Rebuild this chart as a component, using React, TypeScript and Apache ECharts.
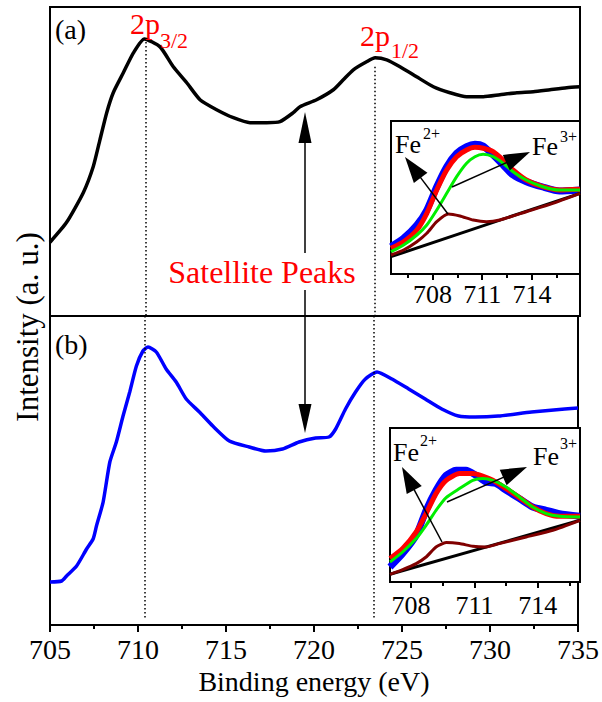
import React, { useEffect, useRef } from "react";
import * as echarts from "echarts";

// ---------- data ----------
const energyA = [705, 705.94, 706.89, 707.45, 707.83, 708.21, 708.58, 709.15, 709.72, 710.34, 711.23, 711.98, 712.74, 713.49, 714.43, 715.38, 716.32, 717.26, 718.02, 718.77, 719.15, 720.09, 721.04, 721.6, 722.17, 722.92, 723.4, 724.06, 724.81, 725.75, 726.7, 727.64, 728.58, 729.53, 730.47, 731.42, 732.36, 733.3, 734.25, 735];
const intensityA = [74, 94, 124, 150, 177, 204, 224, 244, 264, 278, 270, 250, 234, 217, 207, 199, 194, 194, 195, 204, 210, 217, 227, 237, 247, 255, 259, 257, 250, 240, 230, 224, 220, 220, 222, 224, 225, 227, 229, 230];

const energyB = [705, 705.66, 705.94, 706.51, 707.08, 707.45, 707.64, 708.02, 708.4, 708.77, 709.15, 709.53, 709.91, 710.28, 710.57, 711.04, 711.6, 712.17, 712.74, 713.49, 714.25, 715.19, 716.32, 717.26, 718.21, 719.15, 720.09, 720.85, 721.23, 721.79, 722.36, 722.92, 723.58, 724.43, 725.38, 726.32, 727.26, 728.21, 729.15, 730.47, 732.36, 734.25, 735];
const intensityB = [43, 44, 49, 59, 76, 86, 99, 123, 163, 183, 209, 233, 259, 274, 278, 273, 256, 243, 226, 213, 199, 184, 178, 174, 176, 183, 187, 188, 196, 216, 233, 246, 253, 246, 236, 226, 216, 209, 208, 209, 213, 216, 217];

const peakEnergies = [710.4, 723.4];
const peakTopA = [279, 250];

const mainTicks = { min: 705, max: 735, step: 5 };

// inset (a)
const insetAEnergy = [705.5, 706.26, 707.06, 707.66, 708.26, 708.86, 709.46, 710.06, 710.56, 711.06, 711.66, 712.26, 712.86, 713.66, 714.66, 715.66, 716.9];
const insetAData = [27.3, 35.7, 49, 64, 87.3, 107.3, 120.7, 127.3, 129.7, 128, 119, 109, 99, 92.3, 87, 83, 84];
const insetAEnvelope = [25.7, 32.3, 44, 60.7, 84, 104, 117.3, 124, 126.7, 125.7, 122.3, 114, 104, 94, 87.3, 84, 84.7];
const insetAFe3 = [22.3, 29, 39, 49, 64, 80.7, 97.3, 110.7, 117.3, 119.7, 117.3, 110.7, 102.3, 94, 87.3, 84, 84];
const insetAFe2Energy = [705.5, 706.26, 707.06, 707.66, 708.26, 708.96, 709.66, 710.46, 711.26, 712.06, 713.66, 715.26, 716.9];
const insetAFe2 = [19, 24, 32.3, 40.7, 52.3, 60, 58, 54, 52.3, 54, 62.3, 70.7, 80.7];
const insetABgEnergy = [705.5, 716.9];
const insetABg = [17.3, 80.7];

// inset (b)
const insetBEnergy = [707, 707.6, 708.24, 708.71, 709.18, 709.66, 710.29, 710.92, 711.39, 711.87, 712.5, 713.13, 713.76, 714.4, 715.03, 716];
const insetBEnvelope = [23.4, 33.4, 50, 68.4, 88.4, 101.7, 108.4, 108.4, 106, 101.7, 93.4, 84.4, 75, 68.4, 65.7, 65.7];
const insetBFe3 = [20, 30, 43.4, 56.7, 71.7, 84.4, 93.4, 101.7, 103.4, 101.7, 95, 85, 75, 68.4, 65.7, 65];
const insetBDataEnergy = [707, 707.6, 708.24, 708.71, 709.18, 709.66, 710.13, 710.6, 711.08, 711.55, 712.02, 712.5, 713.13, 713.76, 714.4, 715.03, 716];
const insetBData = [15, 28.4, 46.7, 71.7, 91.7, 106.7, 111.7, 111.7, 106.7, 100, 98.4, 91.7, 83.4, 75, 71.7, 68.4, 65.7];
const insetBFe2Energy = [707, 707.6, 708.24, 708.71, 709.18, 709.66, 710.29, 710.92, 711.55, 712.18, 713.45, 714.71, 716];
const insetBFe2 = [7.7, 12.4, 18.4, 25, 35, 39.4, 38.4, 35.7, 35, 38.4, 45, 51.7, 61.7];
const insetBBgEnergy = [707, 716];
const insetBBg = [7.7, 61.7];

const insetMajorTicks = [708, 711, 714];
const insetMinorTicks = [706.5, 709.5, 712.5, 715.5];

// ---------- helpers ----------
const FONT = "Liberation Serif";
const zip = (xs: number[], ys: number[]) => xs.map((x, i) => [x, ys[i]]);

function arrow(x1: number, y1: number, x2: number, y2: number, headLen: number, halfW: number, lw: number) {
  const dx = x2 - x1, dy = y2 - y1;
  const L = Math.hypot(dx, dy);
  const ux = dx / L, uy = dy / L;
  const bx = x2 - ux * headLen, by = y2 - uy * headLen;
  const px = -uy, py = ux;
  return [
    { type: "line", z: 100, shape: { x1, y1, x2: bx + ux * 2, y2: by + uy * 2 }, style: { stroke: "#000", lineWidth: lw } },
    {
      type: "polygon", z: 100,
      shape: { points: [[x2, y2], [bx + px * halfW, by + py * halfW], [bx - px * halfW, by - py * halfW]] },
      style: { fill: "#000" },
    },
  ];
}

function txt(text: string, x: number, y: number, size: number, color: string, align = "left", rotation = 0) {
  return {
    type: "text", z: 100, x, y, rotation,
    style: { text, fontSize: size, fontFamily: FONT, fill: color, align, verticalAlign: "middle" },
  };
}

function insetX(gridIndex: number, min: number, max: number, margin: number) {
  return [
    {
      type: "value", gridIndex, min, max, position: "bottom",
      axisLine: { show: true, lineStyle: { color: "#000", width: 2 } },
      axisTick: { show: true, inside: false, length: 6, customValues: insetMajorTicks, lineStyle: { color: "#000", width: 2 } },
      axisLabel: { show: true, customValues: insetMajorTicks, fontSize: 26, fontFamily: FONT, color: "#000", margin },
      splitLine: { show: false },
    },
    {
      type: "value", gridIndex, min, max, position: "bottom",
      axisLine: { show: false },
      axisTick: { show: true, inside: false, length: 4, customValues: insetMinorTicks, lineStyle: { color: "#000", width: 2 } },
      axisLabel: { show: false },
      splitLine: { show: false },
    },
  ];
}

const line = (xi: number, yi: number, data: number[][], color: string, width: number, extra: any = {}) => ({
  type: "line", xAxisIndex: xi, yAxisIndex: yi, data, smooth: 0.2, symbol: "none", silent: true,
  lineStyle: { color, width }, ...extra,
});

const dotted = { color: "#000", type: [1.5, 2.5], width: 1.5 };

export default function App() {
  const ref = useRef<HTMLDivElement>(null);
  useEffect(() => {
    if (!ref.current) return;
    const chart = echarts.init(ref.current, null, { renderer: "svg" });
    const option: any = {
      animation: false,
      backgroundColor: "#fff",
      textStyle: { fontFamily: FONT },
      grid: [
        { left: 50, top: 7, width: 530, height: 309, show: true, borderColor: "#000", borderWidth: 2, backgroundColor: "transparent" },
        { left: 50, top: 316, width: 530, height: 309, show: true, borderColor: "#000", borderWidth: 2, backgroundColor: "transparent" },
        { left: 391, top: 121, width: 189, height: 153, show: true, borderColor: "#000", borderWidth: 2, backgroundColor: "#fff" },
        { left: 390, top: 428, width: 190, height: 154, show: true, borderColor: "#000", borderWidth: 2, backgroundColor: "#fff" },
      ],
      xAxis: [
        { type: "value", gridIndex: 0, min: mainTicks.min, max: mainTicks.max, show: false },
        {
          type: "value", gridIndex: 1, min: mainTicks.min, max: mainTicks.max, interval: mainTicks.step,
          axisLine: { show: true, lineStyle: { color: "#000", width: 2 } },
          axisTick: { show: true, inside: false, length: 7, lineStyle: { color: "#000", width: 2 } },
          minorTick: { show: true, splitNumber: 2, length: 4, lineStyle: { color: "#000", width: 2 } },
          axisLabel: { fontSize: 28, fontFamily: FONT, color: "#000", margin: 10 },
          splitLine: { show: false },
          name: "Binding energy (eV)", nameLocation: "middle", nameGap: 42,
          nameTextStyle: { fontSize: 28, fontFamily: FONT, color: "#000" },
        },
        ...insetX(2, 705.5, 716.9, 7),
        ...insetX(3, 707, 716, 10),
      ],
      yAxis: [
        { type: "value", gridIndex: 0, min: 0, max: 310, show: false },
        { type: "value", gridIndex: 1, min: 0, max: 309, show: false },
        { type: "value", gridIndex: 2, min: 0, max: 153, show: false },
        { type: "value", gridIndex: 3, min: 0, max: 154, show: false },
      ],
      series: [
        line(0, 0, zip(energyA, intensityA), "#000", 3.5, {
          markLine: {
            silent: true, symbol: ["none", "none"], label: { show: false }, lineStyle: dotted,
            data: peakEnergies.map((e, i) => [{ coord: [e, peakTopA[i]] }, { coord: [e, 0] }]),
          },
        }),
        line(1, 1, zip(energyB, intensityB), "#0000ff", 3.5, {
          markLine: {
            silent: true, symbol: ["none", "none"], label: { show: false }, lineStyle: dotted,
            data: peakEnergies.map((e) => [{ coord: [e, 309] }, { coord: [e, 5] }]),
          },
        }),
        // inset a
        line(2, 2, zip(insetAEnergy, insetAData), "#0000ff", 7),
        line(2, 2, zip(insetAEnergy, insetAEnvelope), "#ff0000", 5),
        line(2, 2, zip(insetAEnergy, insetAFe3), "#00ee00", 3),
        line(2, 2, zip(insetABgEnergy, insetABg), "#000", 3, { smooth: false }),
        line(2, 2, zip(insetAFe2Energy, insetAFe2), "#800000", 3),
        // inset b
        line(4, 3, zip(insetBDataEnergy, insetBData), "#0000ff", 7),
        line(4, 3, zip(insetBEnergy, insetBEnvelope), "#ff0000", 5),
        line(4, 3, zip(insetBEnergy, insetBFe3), "#00ee00", 3),
        line(4, 3, zip(insetBBgEnergy, insetBBg), "#000", 3, { smooth: false }),
        line(4, 3, zip(insetBFe2Energy, insetBFe2), "#800000", 3),
      ],
      graphic: [
        txt("(a)", 55, 29, 28, "#000"),
        txt("(b)", 55, 344, 28, "#000"),
        txt("2p", 130, 23, 30, "#ff0000"),
        txt("3/2", 160, 40, 22, "#ff0000"),
        txt("2p", 360, 35, 30, "#ff0000"),
        txt("1/2", 391, 50, 22, "#ff0000"),
        txt("Satellite Peaks", 262, 272, 32, "#ff0000", "center"),
        txt("Intensity (a. u.)", 27, 327, 31, "#000", "center", Math.PI / 2),
        // inset a labels
        txt("Fe", 395, 144, 26, "#000"),
        txt("2+", 423, 133, 16, "#000"),
        txt("Fe", 532, 146, 26, "#000"),
        txt("3+", 560, 136, 16, "#000"),
        // inset b labels
        txt("Fe", 393, 452, 26, "#000"),
        txt("2+", 420, 440, 16, "#000"),
        txt("Fe", 533, 456, 26, "#000"),
        txt("3+", 560, 443, 16, "#000"),
        // arrows
        ...arrow(305, 253, 305, 112, 31, 6.5, 1.5),
        ...arrow(305, 290, 305, 433, 29, 6.5, 1.5),
        ...arrow(448, 214, 405, 157, 26, 8.5, 1.5),
        ...arrow(452, 187, 530, 152, 26, 8.5, 1.5),
        ...arrow(442, 542, 402, 467, 26, 8.5, 1.5),
        ...arrow(447, 502, 527, 467, 26, 8.5, 1.5),
      ],
    };
    chart.setOption(option);
    return () => chart.dispose();
  }, []);
  return <div ref={ref} style={{ position: "absolute", left: 0, top: 0, width: 602, height: 702, background: "#fff" }} />;
}
